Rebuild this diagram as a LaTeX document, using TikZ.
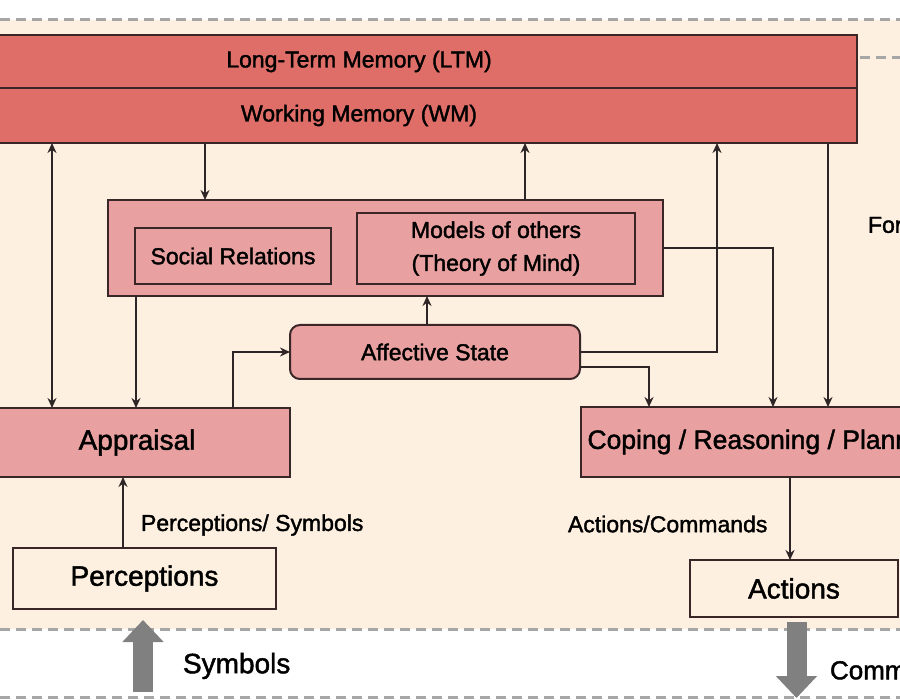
\documentclass[tikz,border=0pt]{standalone}
\usepackage{fontspec}
\setmainfont{Liberation Sans}
\newfontfamily\heavyfont{Liberation Sans}[FakeBold=1.6]
\usetikzlibrary{arrows.meta}
\definecolor{bgbeige}{HTML}{FDF0E1}
\definecolor{memred}{HTML}{E06E68}
\definecolor{boxpink}{HTML}{E9A0A0}
\definecolor{edgec}{HTML}{3A2626}
\definecolor{linec}{HTML}{2E2626}
\definecolor{dashgray}{HTML}{A6A6A6}
\definecolor{biggray}{HTML}{808080}
\tikzset{
  basebox/.style={draw=edgec, line width=2pt, inner sep=0pt, outer sep=0pt, text=black,
    font=\heavyfont\fontsize{23}{27}\selectfont},
  membox/.style={basebox, fill=memred},
  pinkbox/.style={basebox, fill=boxpink},
  bigbox/.style={pinkbox, font=\heavyfont\fontsize{28}{32}\selectfont},
  iobox/.style={basebox, fill=bgbeige, font=\heavyfont\fontsize{28}{32}\selectfont},
  lbl/.style={inner sep=0pt, outer sep=0pt, anchor=west, font=\heavyfont\fontsize{23}{27}\selectfont},
  biglbl/.style={lbl, font=\heavyfont\fontsize{28}{32}\selectfont},
  conn/.style={draw=linec, line width=1.6pt, -{Stealth[length=10pt,width=9pt]}},
  dconn/.style={draw=linec, line width=1.6pt, {Stealth[length=10pt,width=9pt]}-{Stealth[length=10pt,width=9pt]}},
  dashline/.style={draw=dashgray, line width=3pt, dash pattern=on 10pt off 6pt},
  bigarr/.style={draw=biggray, line width=20pt, -{Triangle[width=40pt,length=22pt]}}
}
\begin{document}
\begin{tikzpicture}[x=1pt,y=-1pt]
\useasboundingbox (0,0) rectangle (900,700);
\clip (0,0) rectangle (900,700);
\fill[white] (0,0) rectangle (900,700);
\fill[bgbeige] (0,20) rectangle (900,629);
\draw[dashline] (0,20) -- (900,20);
\draw[dashline] (0,629) -- (900,629);
\draw[dashline] (0,697) -- (900,697);
\draw[dashline] (860,58) -- (900,58);

% memories
\node[membox, minimum width=996pt, minimum height=53pt] (ltm) at (359,61.5) {\raisebox{-2pt}{Long-Term Memory (LTM)}};
\node[membox, minimum width=996pt, minimum height=55pt] (wm) at (359,115.5) {\raisebox{-2pt}{Working Memory (WM)}};

% social block
\node[pinkbox, minimum width=555pt, minimum height=96pt] (soc) at (385.5,248) {};
\node[pinkbox, minimum width=196pt, minimum height=56pt] (socrel) at (233,256) {Social Relations};
\node[draw=edgec, line width=2pt, fill=boxpink, inner sep=0pt, outer sep=0pt, align=center,
  minimum width=278pt, minimum height=71pt, font=\heavyfont\fontsize{23}{33}\selectfont] (models) at (496,248.5)
  {\rule{0pt}{8pt}Models of others\\(Theory of Mind)};

% affective
\node[pinkbox, rounded corners=10pt, minimum width=290pt, minimum height=54pt] (aff) at (435,352) {Affective State};

% appraisal / coping
\node[bigbox, minimum width=306pt, minimum height=69pt] (appr) at (137,442.5) {Appraisal};
\node[pinkbox, font=\heavyfont\fontsize{26.5}{30}\selectfont, minimum width=371pt, minimum height=70pt] (cop) at (766.5,442) {Coping / Reasoning / Planning};

% perceptions / actions
\node[iobox, minimum width=263pt, minimum height=61pt] (perc) at (144.5,578.5) {Perceptions};
\node[iobox, minimum width=208pt, minimum height=57pt] (act) at (794,588.5) {Actions};

% labels
\node[lbl] (lps) at (141,525) {Perceptions/ Symbols};
\node[lbl] (lac) at (568,524) {Actions/Commands};
\node[biglbl] (lsym) at (183,666) {Symbols};
\node[biglbl, font=\heavyfont\fontsize{26}{30}\selectfont] (lcom) at (830,670) {Commands};
\node[lbl] (lfor) at (868,225) {For};

% connectors
\draw[dconn] (52,0 |- wm.south) -- (52,0 |- appr.north);
\draw[conn] (205,0 |- wm.south) -- (205,0 |- soc.north);
\draw[conn] (525,0 |- soc.north) -- (525,0 |- wm.south);
\draw[conn] (aff.east) -| (717,0 |- wm.south);
\draw[conn] (828,0 |- wm.south) -- (828,0 |- cop.north);
\draw[conn] (soc.east) -| (773,0 |- cop.north);
\draw[conn] ([yshift=-15pt]aff.east) -| (649,0 |- cop.north);
\draw[conn] (427,0 |- aff.north) -- (427,0 |- soc.south);
\draw[conn] (136,0 |- soc.south) -- (136,0 |- appr.north);
\draw[conn] (233,0 |- appr.north) |- (aff.west);
\draw[conn] (123,0 |- perc.north) -- (123,0 |- appr.south);
\draw[conn] (790,0 |- cop.south) -- (790,0 |- act.north);

% big gray arrows
\coordinate (symfrom) at (143,692);
\coordinate (symto) at (143,620);
\coordinate (comfrom) at (796.5,622);
\coordinate (comto) at (796.5,698);
\draw[bigarr] (symfrom) -- (symto);
\draw[bigarr] (comfrom) -- (comto);
\end{tikzpicture}
\end{document}
